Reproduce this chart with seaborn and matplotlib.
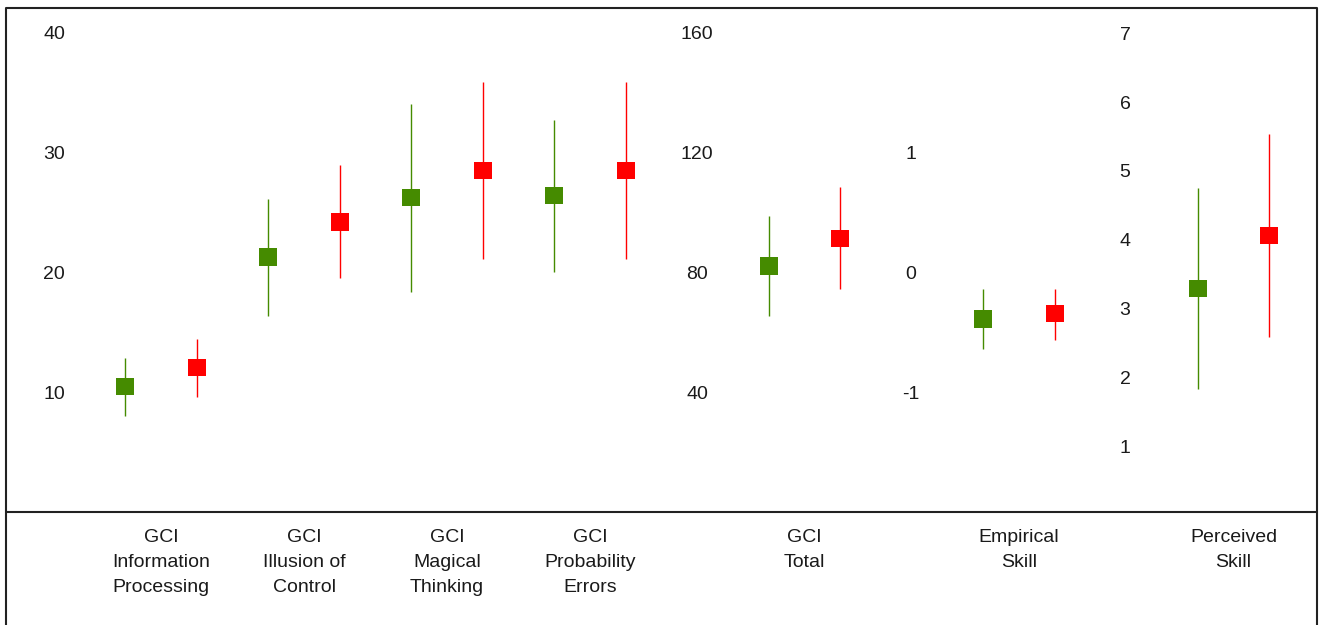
import numpy as np
import pandas as pd
import matplotlib.pyplot as plt
import seaborn as sns

categories = ["GCI\nInformation\nProcessing", "GCI\nIllusion of\nControl",
              "GCI\nMagical\nThinking", "GCI\nProbability\nErrors",
              "GCI\nTotal", "Empirical\nSkill", "Perceived\nSkill"]
positions = [0, 1, 2, 3, 4.5, 6, 7.5]
scale_index = [0, 0, 0, 0, 1, 2, 3]

green_mean = [10.53, 21.31, 26.28, 26.47, 82.33, -0.383, 3.29]
green_low = [8.11, 16.42, 18.42, 20.08, 65.67, -0.633, 1.83]
green_high = [12.89, 26.14, 34.11, 32.75, 99.1, -0.133, 4.75]

red_mean = [12.11, 24.25, 28.53, 28.53, 91.56, -0.339, 4.06]
red_low = [9.69, 19.56, 21.14, 21.14, 74.56, -0.558, 2.58]
red_high = [14.47, 29.0, 35.89, 35.89, 108.78, -0.133, 5.54]

scale_ticks = [[10, 20, 30, 40], [40, 80, 120, 160], [-1, 0, 1], [1, 2, 3, 4, 5, 6, 7]]
scale_ylims = [(0.083, 42.083), (0.33, 168.33), (-1.992, 2.208), (0.042, 7.368)]

palette = {"green": "#458B00", "red": "#FF0000"}
offset = 0.25

rows = []
for i, cat in enumerate(categories):
    rows.append(dict(category=cat, x=positions[i] - offset, group="green", mean=green_mean[i],
                     low=green_low[i], high=green_high[i], scale=scale_index[i]))
    rows.append(dict(category=cat, x=positions[i] + offset, group="red", mean=red_mean[i],
                     low=red_low[i], high=red_high[i], scale=scale_index[i]))
df = pd.DataFrame(rows)

sns.set_theme(style="white")
plt.rcParams["font.family"] = ["Liberation Sans", "DejaVu Sans"]
plt.rcParams["axes.unicode_minus"] = False

W, H = 1319, 625
fig = plt.figure(figsize=(W / 100, H / 100), dpi=100)

# pixel extents of each scale panel
panels = [(74, 680), (717, 890), (931, 1105), (1145, 1317)]
top_px, bottom_px = 8, 512
unit, origin = 143.0, 161.0

for i, (l, r) in enumerate(panels):
    ax = fig.add_axes([l / W, 1 - bottom_px / H, (r - l) / W, (bottom_px - top_px) / H])
    ax.patch.set_alpha(0)
    sub = df[df["scale"] == i]
    ax.vlines(sub["x"], sub["low"], sub["high"], colors=[palette[g] for g in sub["group"]],
              lw=1.0, zorder=2)
    sns.scatterplot(data=sub, x="x", y="mean", hue="group", palette=palette, marker="s",
                    s=160, linewidth=0, legend=False, ax=ax, zorder=3)
    ax.set_xlim((l - origin) / unit, (r - origin) / unit)
    ax.set_ylim(*scale_ylims[i])
    ax.set_yticks(scale_ticks[i])
    idx = [k for k in range(len(categories)) if scale_index[k] == i]
    ax.set_xticks([positions[k] for k in idx])
    ax.set_xticklabels([categories[k] for k in idx], linespacing=1.63)
    ax.set_xlabel("")
    ax.set_ylabel("")
    ax.tick_params(axis="y", length=0, labelsize=14, pad=14.4, labelcolor="#1a1a1a")
    ax.tick_params(axis="x", length=0, labelsize=14, pad=12, labelcolor="#1a1a1a")
    for lbl in ax.get_yticklabels():
        lbl.set_ha("center")
    for s in ax.spines.values():
        s.set_visible(False)

# outer frame and separator
fig.add_artist(plt.Line2D([6 / W, 6 / W, 1317 / W, 1317 / W], [0, 1 - 8 / H, 1 - 8 / H, 0],
                          transform=fig.transFigure, color="#222222", lw=1.5))
fig.add_artist(plt.Line2D([6 / W, 1317 / W], [1 - 512 / H, 1 - 512 / H],
                          transform=fig.transFigure, color="#222222", lw=1.5))

fig.savefig("out.png", dpi=100)
